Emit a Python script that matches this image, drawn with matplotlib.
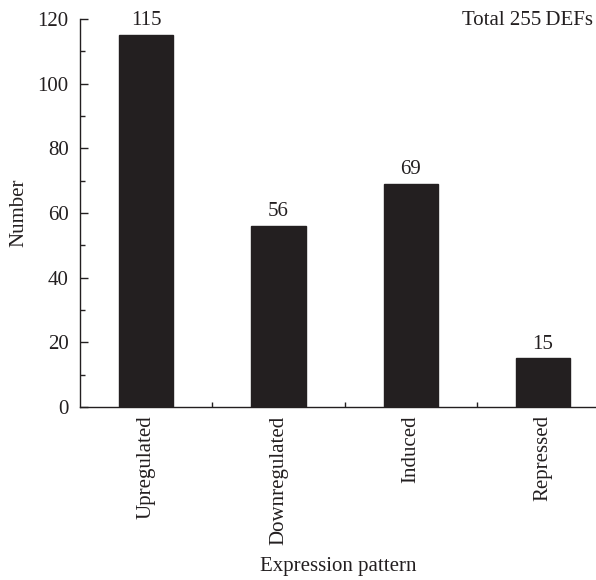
import numpy as np
import matplotlib.pyplot as plt
from matplotlib.ticker import MultipleLocator

plt.rcParams['font.family'] = ['Liberation Serif', 'DejaVu Serif']

patterns = ['Upregulated', 'Downregulated', 'Induced', 'Repressed']
counts = [115, 56, 69, 15]
total_label = 'Total 255\u2009DEFs'

ink = '#231f20'
fs = 15

fig = plt.figure(figsize=(5.96, 5.8), dpi=100)
ax = fig.add_axes([0.134, 0.2983, 0.866, 0.6690])

x = np.arange(len(patterns))
bars = ax.bar(x, counts, width=0.41, color=ink, edgecolor=ink)

for xi, c in zip(x, counts):
    ax.text(xi, c + 1.5, str(c), ha='center', va='bottom', fontsize=fs, color=ink)

ax.set_xlim(-0.5, 3.4)
ax.set_ylim(0, 120)
ax.set_xticks(x)
ax.set_xticklabels(patterns, rotation=90, fontsize=fs, color=ink)
ax.set_xticks(x[:-1] + 0.5, minor=True)
ax.yaxis.set_major_locator(MultipleLocator(20))
ax.yaxis.set_minor_locator(MultipleLocator(10))
ax.tick_params(axis='y', which='major', direction='in', length=6, width=1, labelsize=fs, colors=ink, pad=8)
ax.tick_params(axis='y', which='minor', direction='in', length=3.5, width=1, colors=ink)
ax.tick_params(axis='x', which='major', length=0, pad=6)
ax.tick_params(axis='x', which='minor', direction='in', length=3.5, width=1, colors=ink)

for s in ['top', 'right']:
    ax.spines[s].set_visible(False)
for s in ['left', 'bottom']:
    ax.spines[s].set_color(ink)
    ax.spines[s].set_linewidth(1)

ax.set_ylabel('Number', fontsize=fs, color=ink, labelpad=7)
ax.set_xlabel('Expression pattern', fontsize=fs, color=ink, labelpad=9)

fig.text(0.995, 0.965, total_label, ha='right', va='center', fontsize=fs, color=ink)

fig.savefig('out.png', dpi=100)
